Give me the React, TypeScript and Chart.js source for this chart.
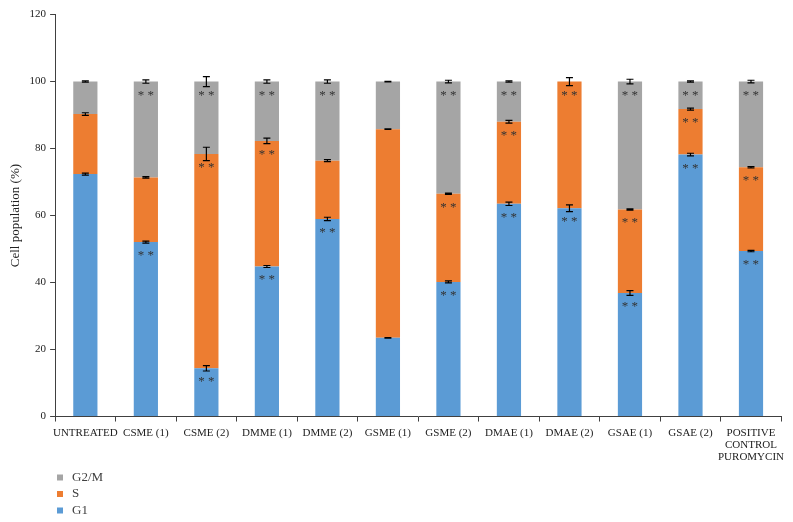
import React, { useEffect, useRef } from "react";
import { Chart, registerables } from "chart.js";

Chart.register(...registerables);

const categories: (string | string[])[] = [
  "UNTREATED",
  "CSME (1)",
  "CSME (2)",
  "DMME (1)",
  "DMME (2)",
  "GSME (1)",
  "GSME (2)",
  "DMAE (1)",
  "DMAE (2)",
  "GSAE (1)",
  "GSAE (2)",
  ["POSITIVE", "CONTROL", "PUROMYCIN"],
];

const g1Values = [72.4, 52.1, 14.4, 44.8, 59.0, 23.5, 40.2, 63.5, 62.2, 36.9, 78.2, 49.4];
const sValues = [17.9, 19.3, 64.0, 37.5, 17.4, 62.3, 26.3, 24.5, 37.8, 24.9, 13.6, 25.0];
const g2mValues = [9.7, 28.6, 21.6, 17.7, 23.6, 14.2, 33.5, 12.0, 0, 38.2, 8.2, 25.6];

const g1Errors = [0.3, 0.3, 0.8, 0.3, 0.5, 0.1, 0.3, 0.5, 1.0, 0.7, 0.4, 0.2];
const sErrors = [0.4, 0.2, 2.0, 0.8, 0.3, 0.1, 0.2, 0.4, 1.2, 0.2, 0.3, 0.2];
const g2mErrors = [0.2, 0.5, 1.5, 0.5, 0.5, 0.1, 0.4, 0.2, 0, 0.7, 0.2, 0.4];

const g1Significant = [false, true, true, true, true, false, true, true, true, true, true, true];
const sSignificant = [false, false, true, true, false, false, true, true, true, true, true, true];
const g2mSignificant = [false, true, true, true, true, false, true, true, false, true, true, true];

const yTicks = [0, 20, 40, 60, 80, 100, 120];

const COLORS = { g1: "#5B9BD5", s: "#ED7D31", g2m: "#A5A5A5" };
const SERIF = "'Liberation Serif', 'Times New Roman', serif";

const seriesValues = [g1Values, sValues, g2mValues];
const seriesErrors = [g1Errors, sErrors, g2mErrors];
const seriesSig = [g1Significant, sSignificant, g2mSignificant];

const overlayPlugin = {
  id: "overlay",
  afterDatasetsDraw(chart: any) {
    const ctx = chart.ctx as CanvasRenderingContext2D;
    const yScale = chart.scales.y;
    ctx.save();
    chart.data.datasets.forEach((_ds: any, di: number) => {
      const meta = chart.getDatasetMeta(di);
      meta.data.forEach((bar: any, i: number) => {
        const val = seriesValues[di][i];
        if (!val) return;
        let cum = 0;
        for (let k = 0; k <= di; k++) cum += seriesValues[k][i];
        const e = seriesErrors[di][i];
        const x = bar.x;
        const yHi = yScale.getPixelForValue(cum + e);
        const yLo = yScale.getPixelForValue(cum - e);
        ctx.strokeStyle = "#000";
        ctx.lineWidth = 1.2;
        ctx.beginPath();
        ctx.moveTo(x, yHi);
        ctx.lineTo(x, yLo);
        ctx.moveTo(x - 3.5, yHi);
        ctx.lineTo(x + 3.5, yHi);
        ctx.moveTo(x - 3.5, yLo);
        ctx.lineTo(x + 3.5, yLo);
        ctx.stroke();
        if (seriesSig[di][i]) {
          const top = yScale.getPixelForValue(cum);
          ctx.fillStyle = "#333";
          ctx.font = `13px ${SERIF}`;
          ctx.textAlign = "center";
          ctx.textBaseline = "middle";
          ctx.fillText("* *", x, top + 13.5);
        }
      });
    });
    ctx.restore();
  },
  afterDraw(chart: any) {
    const ctx = chart.ctx as CanvasRenderingContext2D;
    const items = [
      { label: "G2/M", color: COLORS.g2m },
      { label: "S", color: COLORS.s },
      { label: "G1", color: COLORS.g1 },
    ];
    ctx.save();
    ctx.font = `13px ${SERIF}`;
    ctx.textBaseline = "middle";
    ctx.textAlign = "left";
    items.forEach((it, k) => {
      const cy = 473.5 + k * 16.5;
      ctx.fillStyle = it.color;
      ctx.fillRect(49, cy - 3, 6, 6);
      ctx.fillStyle = "#404040";
      ctx.fillText(it.label, 64, cy);
    });
    ctx.restore();
  },
};

export default function App() {
  const canvasRef = useRef<HTMLCanvasElement | null>(null);

  useEffect(() => {
    if (!canvasRef.current) return;
    const chart = new Chart(canvasRef.current, {
      type: "bar",
      data: {
        labels: categories as any,
        datasets: [
          { label: "G1", data: g1Values, backgroundColor: COLORS.g1, categoryPercentage: 1, barPercentage: 0.4 },
          { label: "S", data: sValues, backgroundColor: COLORS.s, categoryPercentage: 1, barPercentage: 0.4 },
          { label: "G2/M", data: g2mValues, backgroundColor: COLORS.g2m, categoryPercentage: 1, barPercentage: 0.4 },
        ],
      },
      options: {
        animation: false,
        responsive: false,
        maintainAspectRatio: false,
        layout: { padding: { top: 0, right: 0, bottom: 53.5, left: 0 } },
        plugins: {
          legend: { display: false },
          tooltip: { enabled: false },
        },
        scales: {
          x: {
            stacked: true,
            border: { display: true, color: "#404040", width: 1 },
            grid: { display: true, drawOnChartArea: false, drawTicks: true, tickLength: 5, color: "#404040", offset: true },
            ticks: {
              color: "#222",
              font: { family: SERIF, size: 11, lineHeight: 1.12 },
              maxRotation: 0,
              autoSkip: false,
              padding: 5,
            },
          },
          y: {
            stacked: true,
            min: 0,
            max: 120,
            afterBuildTicks: (axis: any) => {
              axis.ticks = yTicks.map((v) => ({ value: v }));
            },
            border: { display: true, color: "#404040", width: 1 },
            grid: { display: true, drawOnChartArea: false, drawTicks: true, tickLength: 5, color: "#404040" },
            ticks: {
              color: "#222",
              font: { family: SERIF, size: 11 },
              padding: 4,
            },
            title: {
              display: true,
              text: "Cell population (%)",
              color: "#222",
              font: { family: SERIF, size: 13 },
              padding: { top: 0, bottom: 2 },
            },
          },
        },
      },
      plugins: [overlayPlugin],
    });
    return () => chart.destroy();
  }, []);

  return (
    <div style={{ width: 781, height: 518, marginTop: -4 }}>
      <canvas ref={canvasRef} width={781} height={518} style={{ display: "block" }} />
    </div>
  );
}
